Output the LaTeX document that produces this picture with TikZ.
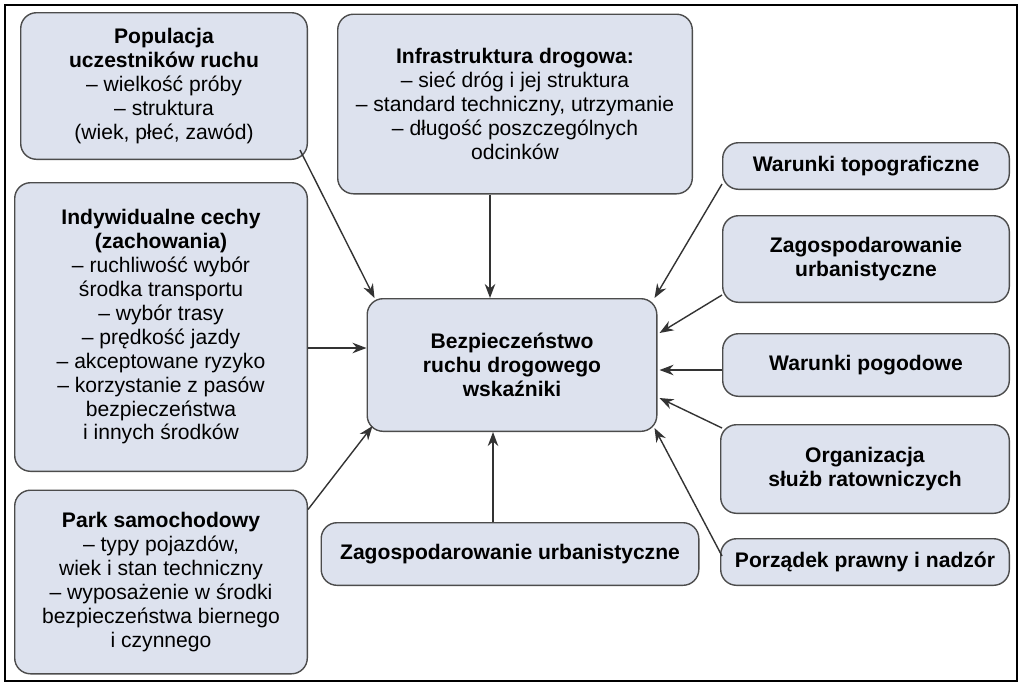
\documentclass[tikz,border=0pt]{standalone}
\usepackage{fontspec}
\setmainfont{Liberation Sans}
\usetikzlibrary{calc,arrows.meta}
\definecolor{bxfill}{HTML}{DDE2EE}
\begin{document}
\begin{tikzpicture}[x=0.02cm,y=-0.02cm,
 bx/.style={draw=black!70,fill=bxfill,rounded corners=9pt,line width=0.8pt,align=center,inner sep=2pt,font=\fontsize{12}{13.6}\selectfont},
 arr/.style={-{Stealth[length=8pt,width=6pt]},line width=0.8pt,black!80}]
\useasboundingbox (0,0) rectangle (1023,687);
\draw[line width=0.6pt] (5,5) rectangle (1017,681);
\newcommand{\bxat}[6]{\node[bx,minimum width=#4*0.02cm-0.8pt,minimum height=#5*0.02cm-0.8pt] (#1) at (#2,#3) {#6};}
\bxat{pop}{164}{86}{288}{148}{\textbf{Populacja}\\\textbf{uczestników ruchu}\\– wielkość próby\\– struktura\\(wiek, płeć, zawód)}
\bxat{inf}{515}{104}{356}{181}{\textbf{Infrastruktura drogowa:}\\– sieć dróg i jej struktura\\– standard techniczny, utrzymanie\\– długość poszczególnych\\odcinków}
\bxat{ind}{161}{327}{294}{290}{\textbf{Indywidualne cechy}\\\textbf{(zachowania)}\\– ruchliwość wybór\\środka transportu\\– wybór trasy\\– prędkość jazdy\\– akceptowane ryzyko\\– korzystanie z pasów\\bezpieczeństwa\\i innych środków}
\bxat{park}{161}{582}{294}{185}{\textbf{Park samochodowy}\\– typy pojazdów,\\wiek i stan techniczny\\– wyposażenie w środki\\bezpieczeństwa biernego\\i czynnego}
\bxat{cen}{512}{365}{291}{134}{\textbf{Bezpieczeństwo}\\\textbf{ruchu drogowego}\\\textbf{wskaźniki}}
\bxat{zb}{510}{554}{379}{64}{\textbf{Zagospodarowanie urbanistyczne}}
\bxat{topo}{866}{166}{288}{48}{\textbf{Warunki topograficzne}}
\bxat{zr}{866}{259}{288}{88}{\textbf{Zagospodarowanie}\\\textbf{urbanistyczne}}
\bxat{pog}{866}{365}{288}{64}{\textbf{Warunki pogodowe}}
\bxat{org}{865}{469}{290}{90}{\textbf{Organizacja}\\\textbf{służb ratowniczych}}
\bxat{por}{865}{562}{290}{48}{\textbf{Porządek prawny i nadzór}}
\draw[arr] ($(pop.south east)+(-8,-10)$) -- ($(cen.north west)+(8,0)$);
\draw[arr] ($(inf.south)+(-25,0)$) -- ($(cen.north)+(-22,0)$);
\draw[arr] ($(ind.east)+(0,21)$) -- ($(cen.west)+(0,-17)$);
\draw[arr] ($(park.north east)+(0,20)$) -- ($(cen.south west)+(6,-6)$);
\draw[arr] ($(zb.north)+(-17,0)$) -- ($(cen.south)+(-19,0)$);
\draw[arr] ($(topo.west)+(0,18)$) -- ($(cen.north east)+(-3,0)$);
\draw[arr] ($(zr.south west)+(0,-8)$) -- ($(cen.east)+(2,-32)$);
\draw[arr] ($(pog.west)+(0,5)$) -- ($(cen.east)+(2,5)$);
\draw[arr] ($(org.north west)+(2,4)$) -- ($(cen.east)+(2,33)$);
\draw[arr] ($(por.west)+(2,-6)$) -- ($(cen.south east)+(-3,-4)$);
\end{tikzpicture}
\end{document}
